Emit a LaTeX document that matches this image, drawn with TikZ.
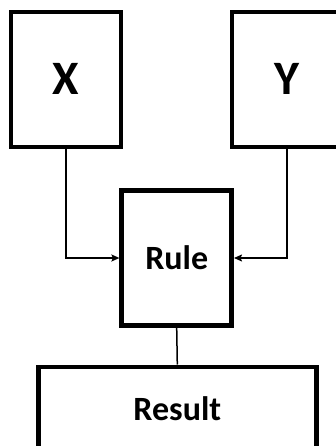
\documentclass[tikz,border=0pt]{standalone}
\usepackage{fontspec}
\setmainfont{Carlito}
\usetikzlibrary{arrows.meta}
\begin{document}
\begin{tikzpicture}[x=1pt,y=-1pt,
  blockbox/.style={draw=black, line width=4.6pt, fill=white, minimum width=110pt, minimum height=135pt, inner sep=0pt, font=\bfseries\fontsize{34}{40}\selectfont},
  bigletter/.style={font=\bfseries\fontsize{48}{56}\selectfont},
  link/.style={draw=black, line width=1.5pt},
  arrowlink/.style={link, -{Stealth[length=8pt,width=7pt,inset=1.5pt]}}]
\path[use as bounding box] (0,0) rectangle (336,446);
\clip (0,0) rectangle (336,446);
\node[blockbox, bigletter] (X) at (66,79.4) {X};
\node[blockbox, bigletter] (Y) at (287,79.4) {Y};
\node[blockbox] (R) at (176.7,258) {Rule};
\node[blockbox, minimum width=278pt, minimum height=84pt] (S) at (177.3,408.8) {Result};
\draw[arrowlink] (X.south) |- (R.west);
\draw[arrowlink] (Y.south) |- (R.east);
\draw[link] (R.south) -- (S.north);
\end{tikzpicture}
\end{document}
